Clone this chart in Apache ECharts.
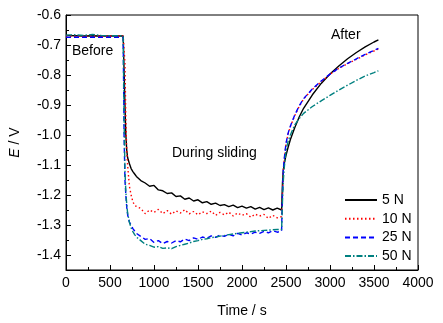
<!DOCTYPE html>
<html><head><meta charset="utf-8">
<script src="https://cdn.jsdelivr.net/npm/echarts@6/dist/echarts.min.js"></script>
<style>html,body{margin:0;padding:0;background:#fff}#c{width:443px;height:323px}</style>
</head><body><div id="c"></div>
<script>
var times = [0,100,200,300,400,500,600,
  650,660,670,680,690,700,
  720,740,760,780,800,
  850,900,950,1000,1050,1100,1150,1200,1250,1300,1350,1400,1450,1500,1550,1600,1650,1700,1750,1800,1850,1900,1950,2000,2050,2100,2150,2200,2250,2300,2350,2400,2450,
  2460,2470,2480,2500,2525,2550,2600,2650,2700,
  2800,2900,3000,3100,3200,3300,3400,3500,3550];

var e5N = [-0.668,-0.669,-0.670,-0.669,-0.670,-0.670,-0.670,
  -0.670,-0.670,-0.900,-1.000,-1.050,-1.075,
  -1.095,-1.112,-1.122,-1.130,-1.138,
  -1.152,-1.160,-1.171,-1.168,-1.183,-1.186,-1.195,-1.193,-1.205,-1.203,-1.214,-1.210,-1.220,-1.216,-1.226,-1.222,-1.231,-1.227,-1.235,-1.232,-1.239,-1.234,-1.242,-1.237,-1.244,-1.239,-1.247,-1.241,-1.249,-1.243,-1.250,-1.244,-1.250,
  -1.160,-1.115,-1.095,-1.068,-1.040,-1.015,-0.975,-0.940,-0.911,
  -0.866,-0.828,-0.797,-0.770,-0.746,-0.725,-0.706,-0.690,-0.683];

var e10N = [-0.670,-0.671,-0.671,-0.670,-0.671,-0.671,-0.671,
  -0.671,-0.672,-0.760,-0.950,-1.050,-1.100,
  -1.170,-1.200,-1.222,-1.235,-1.240,
  -1.245,-1.262,-1.250,-1.258,-1.248,-1.262,-1.252,-1.264,-1.253,-1.260,-1.249,-1.263,-1.255,-1.266,-1.256,-1.262,-1.254,-1.268,-1.258,-1.266,-1.257,-1.270,-1.260,-1.268,-1.262,-1.274,-1.264,-1.270,-1.265,-1.278,-1.268,-1.276,-1.272,
  -1.200,-1.120,-1.085,-1.030,-0.995,-0.972,-0.935,-0.905,-0.880,
  -0.848,-0.822,-0.798,-0.778,-0.762,-0.748,-0.733,-0.720,-0.713];

var e25N = [-0.674,-0.674,-0.674,-0.674,-0.674,-0.674,-0.674,
  -0.674,-1.000,-1.150,-1.200,-1.240,-1.265,
  -1.290,-1.300,-1.312,-1.320,-1.328,
  -1.338,-1.348,-1.345,-1.358,-1.352,-1.362,-1.355,-1.360,-1.352,-1.356,-1.347,-1.352,-1.343,-1.348,-1.340,-1.344,-1.336,-1.341,-1.334,-1.338,-1.331,-1.336,-1.328,-1.333,-1.326,-1.330,-1.324,-1.328,-1.321,-1.326,-1.319,-1.324,-1.320,
  -1.190,-1.115,-1.080,-1.028,-0.993,-0.970,-0.933,-0.903,-0.879,
  -0.846,-0.820,-0.797,-0.777,-0.761,-0.746,-0.731,-0.718,-0.711];

var e50N = [-0.667,-0.666,-0.668,-0.665,-0.668,-0.669,-0.669,
  -0.670,-0.950,-1.120,-1.190,-1.230,-1.260,
  -1.290,-1.310,-1.322,-1.332,-1.340,
  -1.352,-1.364,-1.368,-1.374,-1.372,-1.378,-1.376,-1.379,-1.372,-1.368,-1.364,-1.360,-1.355,-1.352,-1.348,-1.346,-1.342,-1.340,-1.337,-1.335,-1.332,-1.330,-1.328,-1.326,-1.324,-1.322,-1.320,-1.319,-1.318,-1.317,-1.316,-1.315,-1.315,
  -1.220,-1.150,-1.110,-1.050,-1.020,-1.000,-0.966,-0.945,-0.928,
  -0.905,-0.886,-0.868,-0.850,-0.834,-0.818,-0.803,-0.792,-0.786];

var seriesNames = ['5 N','10 N','25 N','50 N'];
var yMajor = [-1.4,-1.3,-1.2,-1.1,-1.0,-0.9,-0.8,-0.7,-0.6];
var yMinor = [-1.45,-1.35,-1.25,-1.15,-1.05,-0.95,-0.85,-0.75,-0.65];
var annotations = ['Before','During sliding','After'];

function pairs(v){ return times.map(function(t,i){ return [t, v[i]]; }); }

var FONT = 'Liberation Sans, Arial, sans-serif';
var FS = 14;
var chart = echarts.init(document.getElementById('c'));
var styles = [
  {color:'#000000', type:'solid', width:1.4},
  {color:'#ff0000', type:[1.5,2.5], width:1.4},
  {color:'#0000ff', type:[5,3], width:1.4},
  {color:'#008080', type:[6,2,1.5,2], width:1.4}
];
var vals = [e5N, e10N, e25N, e50N];

chart.setOption({
  animation:false,
  backgroundColor:'#fff',
  grid:{left:64, right:25, top:15, bottom:48, show:true, borderColor:'#000', borderWidth:1},
  legend:{
    orient:'vertical', left:344, top:193, padding:0, itemWidth:32, itemHeight:12, itemGap:4.7,
    itemStyle:{opacity:0},
    data:seriesNames, textStyle:{fontFamily:FONT, fontSize:FS, color:'#000'}
  },
  xAxis:{
    type:'value', min:0, max:4000, interval:500,
    name:'Time / s', nameLocation:'middle', nameGap:34,
    nameTextStyle:{fontFamily:FONT, fontSize:FS, color:'#000'},
    axisLine:{show:true, onZero:false, lineStyle:{color:'#000'}},
    axisTick:{inside:true, length:5, lineStyle:{color:'#000'}},
    minorTick:{show:true, splitNumber:2, length:3, lineStyle:{color:'#000'}},
    axisLabel:{fontFamily:FONT, fontSize:FS, color:'#000', margin:6,
      formatter:function(v){ return String(v); }},
    splitLine:{show:false}
  },
  yAxis:[{
    type:'value', min:-1.45, max:-0.6,
    name:'{i|E} / V', nameLocation:'middle', nameGap:44,
    nameTextStyle:{fontFamily:FONT, fontSize:FS, color:'#000', rich:{i:{fontStyle:'italic', fontFamily:FONT, fontSize:FS}}},
    axisLine:{show:true, onZero:false, lineStyle:{color:'#000'}},
    axisTick:{inside:true, length:5, customValues:yMajor, lineStyle:{color:'#000'}},
    axisLabel:{fontFamily:FONT, fontSize:FS, color:'#000', margin:5, customValues:yMajor,
      formatter:function(v){ return v.toFixed(1); }},
    splitLine:{show:false}
  },{
    type:'value', min:-1.45, max:-0.6, position:'left',
    axisLine:{show:false},
    axisTick:{show:true, inside:true, length:3, customValues:yMinor, lineStyle:{color:'#000'}},
    axisLabel:{show:false},
    splitLine:{show:false}
  }],
  graphic:[
    {type:'text', left:72, top:44, style:{text:annotations[0], font:FS+'px '+FONT, fill:'#000'}},
    {type:'text', left:172, top:146, style:{text:annotations[1], font:FS+'px '+FONT, fill:'#000'}},
    {type:'text', left:331, top:28, style:{text:annotations[2], font:FS+'px '+FONT, fill:'#000'}}
  ],
  series: seriesNames.map(function(n,i){
    return {
      name:n, type:'line', data:pairs(vals[i]), showSymbol:false, symbol:'none',
      lineStyle:{color:styles[i].color, type:styles[i].type, width:styles[i].width},
      itemStyle:{color:styles[i].color}
    };
  })
});
</script>
</body></html>
